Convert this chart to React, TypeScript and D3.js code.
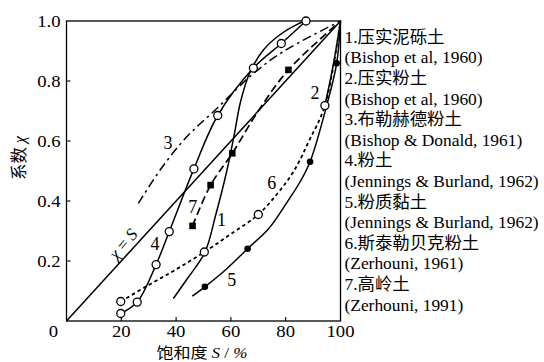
import React from 'react';
import * as d3 from 'd3';

const xTicks = [20, 40, 60, 80, 100];
const yTicks = [0.2, 0.4, 0.6, 0.8, 1.0];

type P = [number, number];

const lineS: P[] = [[0, 0], [100, 1]];
const curve1: P[] = [[39, 0.075], [44, 0.14], [50.5, 0.229], [54.5, 0.355], [58.5, 0.5], [61.2, 0.62], [63.5, 0.73], [67, 0.83], [72, 0.905], [78, 0.955], [84, 0.988], [87.4, 1.0]];
const curve2: P[] = [[94.3, 0.718], [97.5, 0.86], [100, 1.0]];
const curve3: P[] = [[26.2, 0.392], [34.7, 0.51], [44, 0.615], [54.5, 0.705], [67.6, 0.82], [79.1, 0.898], [100, 1.0]];
const curve4: P[] = [[19.8, 0.025], [25.8, 0.063], [32.7, 0.188], [37.5, 0.298], [46.5, 0.507], [55.2, 0.685], [68.2, 0.843], [78.4, 0.925], [87.4, 1.0]];
const curve5: P[] = [[45.9, 0.083], [50.5, 0.114], [58, 0.17], [66.1, 0.241], [74, 0.31], [81, 0.403], [85, 0.46], [88.9, 0.531], [95, 0.72], [98.6, 0.859], [100, 1.0]];
const curve6: P[] = [[19.8, 0.065], [30, 0.12], [40, 0.172], [50.3, 0.23], [60, 0.29], [70, 0.355], [77, 0.425], [83, 0.5], [88.5, 0.6], [94.3, 0.718], [100, 1.0]];
const curve7: P[] = [[46, 0.317], [52.6, 0.453], [60.5, 0.559], [70, 0.7], [81, 0.837], [100, 1.0]];

const circles2: P[] = [[94.3, 0.718]];
const circles4: P[] = [[19.8, 0.025], [25.8, 0.063], [32.7, 0.188], [37.5, 0.298], [46.5, 0.507], [55.2, 0.685], [68.2, 0.843], [78.4, 0.925], [87.4, 1.0]];
const circles6: P[] = [[19.8, 0.065], [50.3, 0.23], [70, 0.355]];
const dots5: P[] = [[50.5, 0.114], [66.1, 0.241], [88.9, 0.531], [98.6, 0.859]];
const squares7: P[] = [[46, 0.317], [52.6, 0.453], [60.5, 0.559], [81, 0.837]];

const curveLabels: { t: string; x: number; y: number }[] = [
  { t: '1', x: 56.6, y: 0.337 },
  { t: '2', x: 90.7, y: 0.76 },
  { t: '3', x: 37, y: 0.593 },
  { t: '4', x: 32.3, y: 0.257 },
  { t: '5', x: 60.3, y: 0.137 },
  { t: '6', x: 74.9, y: 0.46 },
  { t: '7', x: 46.1, y: 0.381 },
];

const legendLines = [
  '1.压实泥砾土',
  '(Bishop et al, 1960)',
  '2.压实粉土',
  '(Bishop et al, 1960)',
  '3.布勒赫德粉土',
  '(Bishop & Donald, 1961)',
  '4.粉土',
  '(Jennings & Burland, 1962)',
  '5.粉质黏土',
  '(Jennings & Burland, 1962)',
  '6.斯泰勒贝克粉土',
  '(Zerhouni, 1961)',
  '7.高岭土',
  '(Zerhouni, 1991)',
];

const SERIF = "'Liberation Serif', 'DejaVu Serif', 'Noto Sans CJK SC', serif";
const CJK = "'Noto Sans CJK SC', 'Liberation Serif', sans-serif";

export default function App() {
  const W = 544, H = 362;
  const x = d3.scaleLinear().domain([0, 100]).range([66.5, 340.5]);
  const y = d3.scaleLinear().domain([0, 1]).range([321, 21]);
  const line = d3.line<P>().x(d => x(d[0])).y(d => y(d[1])).curve(d3.curveCatmullRom.alpha(0.5));
  const straight = d3.line<P>().x(d => x(d[0])).y(d => y(d[1]));
  const sw = 1.5;
  const [x0, x1] = x.range();
  const [y0, y1] = y.range();
  const serif = { fontFamily: SERIF };
  const cjk = { fontFamily: CJK };
  const sx = 1.1;

  return (
    <svg width={W} height={H} style={{ position: 'absolute', left: 0, top: 0, background: '#fff', fontFamily: SERIF }}>
      <rect x={0} y={0} width={W} height={H} fill="#fff" />
      <rect x={x0} y={y1} width={x1 - x0} height={y0 - y1} fill="none" stroke="#000" strokeWidth={1.3} />
      {xTicks.slice(0, 4).map(t => (
        <line key={'xt' + t} x1={x(t)} x2={x(t)} y1={y0} y2={y0 - 4} stroke="#000" strokeWidth={1.1} />
      ))}
      {yTicks.slice(0, 4).map(t => (
        <line key={'yt' + t} x1={x0} x2={x0 + 4} y1={y(t)} y2={y(t)} stroke="#000" strokeWidth={1.1} />
      ))}
      {xTicks.map(t => (
        <text key={'xl' + t} transform={`translate(${x(t)},336.5) scale(${sx},1)`} textAnchor="middle" fontSize={17} style={serif}>{t}</text>
      ))}
      <text transform={`translate(53.5,336.5) scale(${sx},1)`} textAnchor="middle" fontSize={17} style={serif}>0</text>
      {yTicks.map(t => (
        <text key={'yl' + t} transform={`translate(60.5,${y(t)}) scale(${sx},1)`} dy="0.35em" textAnchor="end" fontSize={17} style={serif}>{t.toFixed(1)}</text>
      ))}
      <text transform={`translate(202,357.5) scale(1.14,1)`} textAnchor="middle" fontSize={15} style={serif}>
        <tspan style={cjk}>饱和度 </tspan>
        <tspan fontStyle="italic" style={serif}>S</tspan>
        <tspan style={serif}> / </tspan>
        <tspan fontStyle="italic" style={serif}>%</tspan>
      </text>
      <text transform="translate(25,158) rotate(-90)" textAnchor="middle" fontSize={16.5} style={serif}>
        <tspan style={cjk}>系数 </tspan>
        <tspan fontStyle="italic" style={serif}>χ</tspan>
      </text>

      <path d={straight(lineS) || ''} fill="none" stroke="#000" strokeWidth={sw} />
      <path d={line(curve1) || ''} fill="none" stroke="#000" strokeWidth={sw} />
      <path d={line(curve2) || ''} fill="none" stroke="#000" strokeWidth={sw} />
      <path d={line(curve3) || ''} fill="none" stroke="#000" strokeWidth={sw} strokeDasharray="9,4,2.5,4" />
      <path d={line(curve4) || ''} fill="none" stroke="#000" strokeWidth={sw} />
      <path d={line(curve5) || ''} fill="none" stroke="#000" strokeWidth={sw} />
      <path d={line(curve6) || ''} fill="none" stroke="#000" strokeWidth={sw + 0.3} strokeDasharray="3.5,3" />
      <path d={line(curve7) || ''} fill="none" stroke="#000" strokeWidth={sw + 0.2} strokeDasharray="8,4" />

      {[...circles2, ...circles4, ...circles6].map((d, i) => (
        <circle key={'c' + i} cx={x(d[0])} cy={y(d[1])} r={4} fill="#fff" stroke="#000" strokeWidth={1.3} />
      ))}
      {dots5.map((d, i) => (
        <circle key={'d' + i} cx={x(d[0])} cy={y(d[1])} r={3.3} fill="#000" />
      ))}
      {squares7.map((d, i) => (
        <rect key={'s' + i} x={x(d[0]) - 3.3} y={y(d[1]) - 3.3} width={6.6} height={6.6} fill="#000" />
      ))}

      {curveLabels.map(l => (
        <text key={'cl' + l.t} x={x(l.x)} y={y(l.y)} dy="0.35em" textAnchor="middle" fontSize={18} style={serif}>{l.t}</text>
      ))}
      <text transform={`translate(${x(20.6)},${y(0.257)}) rotate(-50)`} textAnchor="middle" dy="0.35em" fontSize={17} style={serif}>
        <tspan fontStyle="italic">χ</tspan>
        <tspan> = </tspan>
        <tspan fontStyle="italic">S</tspan>
      </text>

      {legendLines.map((t, i) => (
        <text key={'lg' + i} transform={`translate(344.5,${37 + i * 20.6}) scale(1.055,1)`} dy="0.35em" fontSize={16.5} style={serif}>{t}</text>
      ))}
    </svg>
  );
}
